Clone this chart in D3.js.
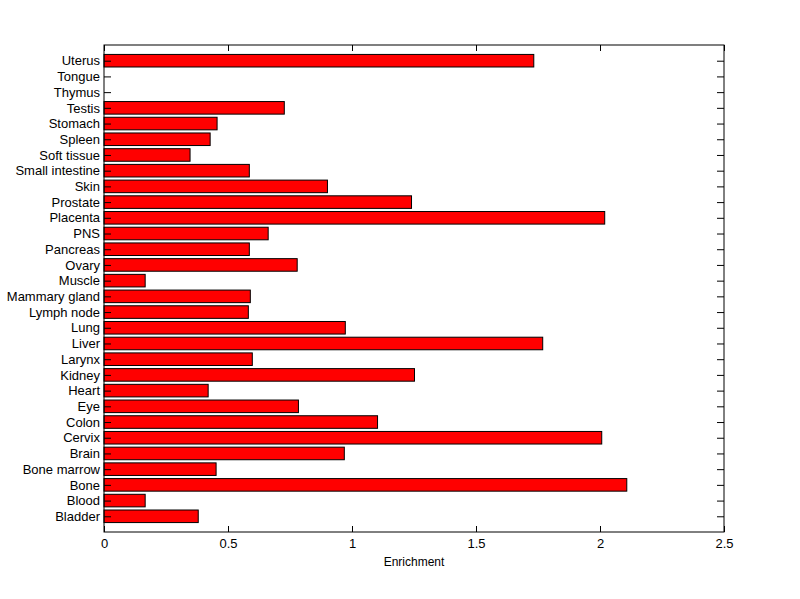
<!DOCTYPE html>
<html>
<head>
<meta charset="utf-8">
<script src="https://cdn.jsdelivr.net/npm/d3@7"></script>
<style>
  body { margin: 0; background: #fff; }
  text { font-family: "Liberation Sans", Arial, sans-serif; }
</style>
</head>
<body>
<div id="chart"></div>
<script>
// bottom to top, same as the figure
const tissues = ['Bladder', 'Blood', 'Bone', 'Bone marrow', 'Brain', 'Cervix', 'Colon', 'Eye', 'Heart', 'Kidney',
  'Larynx', 'Liver', 'Lung', 'Lymph node', 'Mammary gland', 'Muscle', 'Ovary', 'Pancreas', 'PNS', 'Placenta',
  'Prostate', 'Skin', 'Small intestine', 'Soft tissue', 'Spleen', 'Stomach', 'Testis', 'Thymus', 'Tongue', 'Uterus'];
const enrichment = [0.38, 0.166, 2.108, 0.452, 0.969, 2.007, 1.103, 0.784, 0.42, 1.252,
  0.598, 1.769, 0.973, 0.582, 0.59, 0.166, 0.779, 0.586, 0.662, 2.019,
  1.24, 0.901, 0.586, 0.347, 0.428, 0.456, 0.727, 0, 0, 1.733];
const xTicks = [0, 0.5, 1, 1.5, 2, 2.5];

const width = 800, height = 599;
const plotL = 104, plotR = 724, plotT = 45, plotB = 532;

const svg = d3.select('#chart').append('svg')
    .attr('width', width)
    .attr('height', height);

const x = d3.scaleLinear().domain([0, 2.5]).range([plotL, plotR]);
const y = d3.scaleLinear().domain([0, tissues.length + 1]).range([plotB, plotT]);
const barH = y(0) - y(0.8);

const data = tissues.map((t, i) => ({ name: t, value: enrichment[i], pos: i + 1 }));

// bars
svg.append('g')
    .selectAll('rect')
    .data(data.filter(d => d.value > 0))
    .enter()
    .append('rect')
    .attr('x', x(0))
    .attr('y', d => y(d.pos) - barH / 2)
    .attr('width', d => x(d.value) - x(0))
    .attr('height', barH)
    .attr('fill', '#ff0000')
    .attr('stroke', '#000')
    .attr('stroke-width', 1);

// box
svg.append('rect')
    .attr('x', plotL)
    .attr('y', plotT)
    .attr('width', plotR - plotL)
    .attr('height', plotB - plotT)
    .attr('fill', 'none')
    .attr('stroke', '#000')
    .attr('stroke-width', 1);

// x ticks (inward, bottom and top)
const xg = svg.append('g').attr('transform', `translate(0,${plotB})`)
    .call(d3.axisBottom(x).tickValues(xTicks).tickSize(-6).tickPadding(7).tickFormat(d3.format('')));
xg.select('.domain').remove();
xg.selectAll('text').attr('font-size', 13).attr('fill', '#000');

const xt = svg.append('g').attr('transform', `translate(0,${plotT})`)
    .call(d3.axisTop(x).tickValues(xTicks).tickSize(-6).tickFormat(''));
xt.select('.domain').remove();

// y ticks (inward, left and right)
const yVals = data.map(d => d.pos);
const yl = svg.append('g').attr('transform', `translate(${plotL},0)`)
    .call(d3.axisLeft(y).tickValues(yVals).tickSize(-7).tickPadding(4).tickFormat((d, i) => tissues[i]));
yl.select('.domain').remove();
yl.selectAll('text').attr('font-size', 13).attr('fill', '#000');

const yr = svg.append('g').attr('transform', `translate(${plotR},0)`)
    .call(d3.axisRight(y).tickValues(yVals).tickSize(-7).tickFormat(''));
yr.select('.domain').remove();

svg.append('text')
    .attr('x', (plotL + plotR) / 2)
    .attr('y', 566)
    .attr('text-anchor', 'middle')
    .attr('font-size', 12)
    .text('Enrichment');
</script>
</body>
</html>
